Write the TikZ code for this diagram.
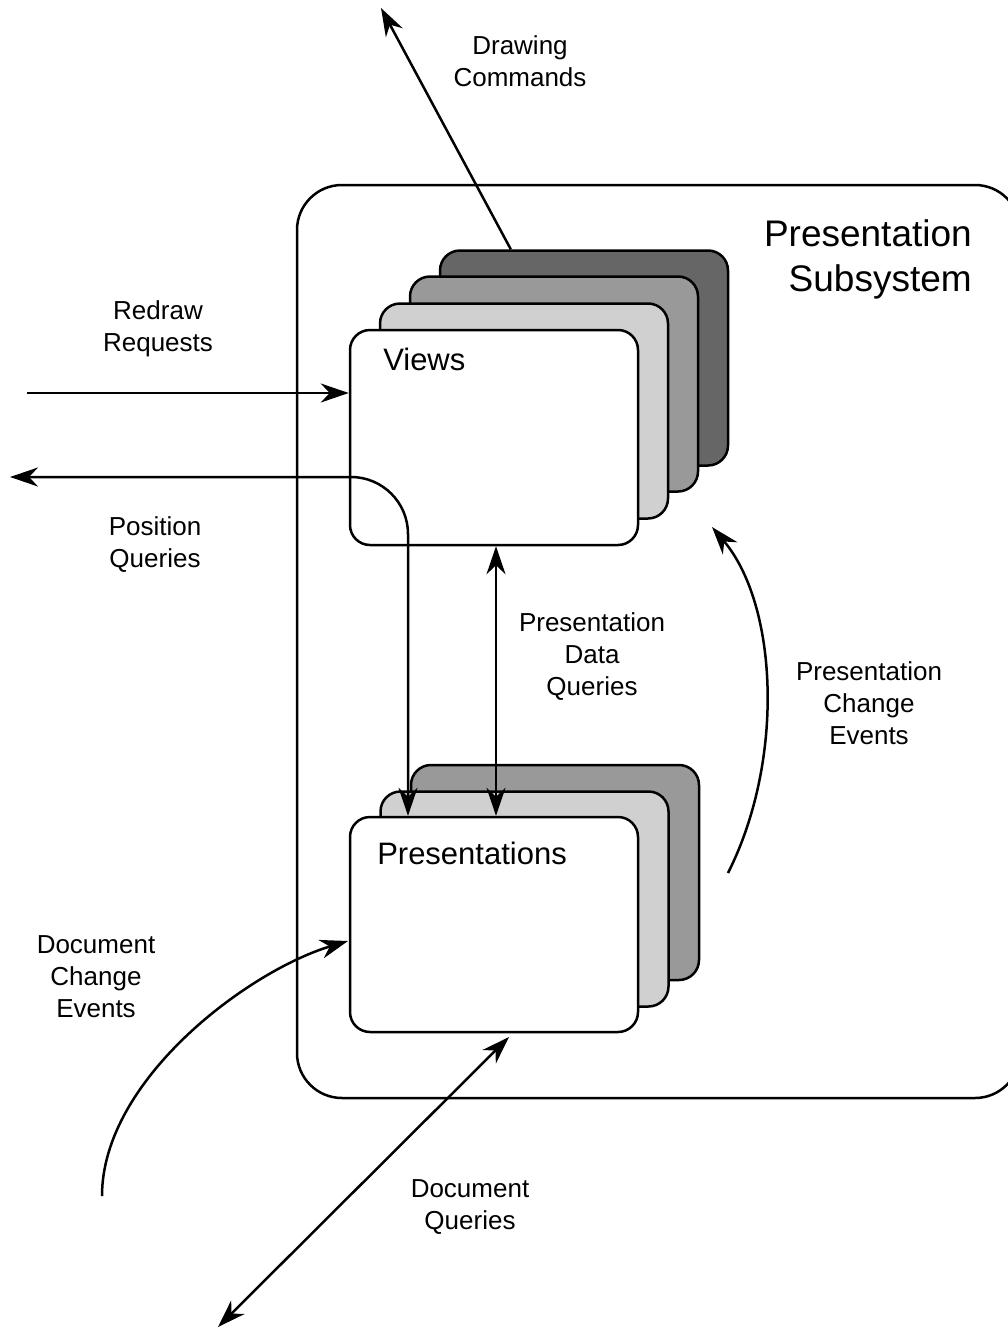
\documentclass[tikz,border=0pt]{standalone}
\usepackage{fontspec}
\setmainfont{Liberation Sans}
\usetikzlibrary{arrows.meta}
\definecolor{cardlight}{RGB}{208,208,208}
\definecolor{cardmid}{RGB}{153,153,153}
\definecolor{carddark}{RGB}{102,102,102}
\begin{document}
\begin{tikzpicture}[x=1pt,y=-1pt,
  line width=2.5pt,
  >={Stealth[length=28pt,width=19pt,inset=9pt]},
  card/.style={draw=black, rectangle, rounded corners=20pt, inner sep=0pt,
    minimum width=288pt, minimum height=215pt},
  subsys/.style={draw=black, rectangle, rounded corners=45pt, inner sep=0pt,
    minimum width=723pt, minimum height=913pt},
  lbl/.style={align=center, inner sep=0pt, font=\fontsize{26}{32}\selectfont},
  ttl/.style={anchor=west, inner sep=0pt, font=\fontsize{31}{37}\selectfont},
  big/.style={align=right, inner sep=0pt, font=\fontsize{37}{45}\selectfont}]
\useasboundingbox (0,0) rectangle (1008,1328);
\clip (0,0) rectangle (1008,1328);

% subsystem frame
\node[subsys] (subsys) at (658.5,641.5) {};
\node[big, anchor=north east] (subsysT) at (973,218) {Presentation\\Subsystem};

% stack of views
\node[card, fill=carddark]  (viewsC) at (584,358) {};
\node[card, fill=cardmid]   (viewsB) at (554,384) {};
\node[card, fill=cardlight] (viewsA) at (524,411) {};
\node[card, fill=white]     (views)  at (494,437.5) {};
\node[ttl] (viewsT) at (382,359) {Views};

% stack of presentations
\node[card, fill=cardmid]   (presB) at (555,872.5) {};
\node[card, fill=cardlight] (presA) at (524.5,899) {};
\node[card, fill=white]     (pres)  at (494,924.5) {};
\node[ttl] (presT) at (376,853) {Presentations};

% free ends of connectors
\coordinate (dcEnd)   at (381,8);
\coordinate (rrStart) at (27,393);
\coordinate (pqEnd)   at (10,477);
\coordinate (pqBend)  at (408,477);
\coordinate (pceStart) at (728,873);
\coordinate (pceEnd)   at (712,527);
\coordinate (dceStart) at (102,1196);
\coordinate (dceEnd)   at (348,941);
\coordinate (dqEnd)   at (218,1327);
\coordinate (dqTop)   at (509,1037);

% connectors
\draw[->] ([xshift=72pt]viewsC.north west) -- (dcEnd);
\draw[->] (rrStart) -- (rrStart -| views.west);
\draw[<->, rounded corners=57pt] (pqEnd) -- (pqBend) -- (pqBend |- pres.north);
\draw[<->] ([xshift=2pt]views.south) -- ([xshift=2pt]pres.north);
\draw[->] (pceStart) .. controls (785,760) and (778,605) .. (pceEnd);
\draw[->] (dceStart) .. controls (102,1080) and (248,971) .. (dceEnd);
\draw[<->] (dqEnd) -- (dqTop);

% labels
\node[lbl] (dcL)  at (520,61.5)  {Drawing\\Commands};
\node[lbl] (rrL)  at (158,329)   {Redraw\\Requests};
\node[lbl] (pqL)  at (155,545)   {Position\\Queries};
\node[lbl] (pdqL) at (592,657)   {Presentation\\Data\\Queries};
\node[lbl] (pceL) at (869,703)   {Presentation\\Change\\Events};
\node[lbl] (dceL) at (96,977)    {Document\\Change\\Events};
\node[lbl] (dqL)  at (470,1207)  {Document\\Queries};
\end{tikzpicture}
\end{document}
